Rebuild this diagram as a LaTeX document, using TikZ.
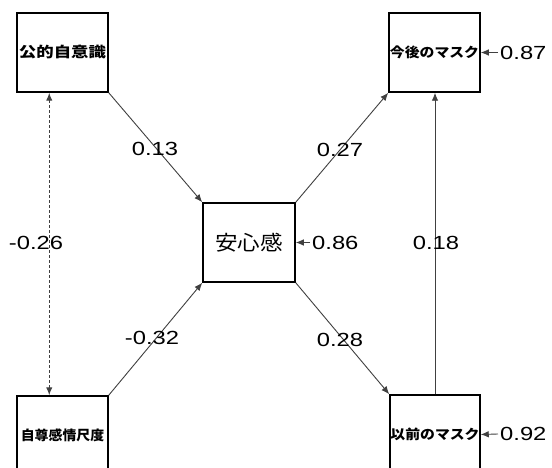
\documentclass[tikz,border=0pt]{standalone}
\usepackage{fontspec}
\setmainfont{Liberation Sans}
\newfontfamily\cjk{Noto Sans CJK JP}
\usetikzlibrary{arrows.meta}
\newcommand{\lbl}[1]{\scalebox{1.25}[1]{\fontsize{19}{20}\selectfont #1}}
\newcommand{\jp}[3]{\scalebox{#2}[1]{\cjk\bfseries\fontsize{#1}{#1}\selectfont #3}}
\begin{document}
\begin{tikzpicture}[x=1pt,y=-1pt,
  box/.style={draw=black, line width=1.5pt, minimum width=91pt, minimum height=79pt, inner sep=0pt},
  conn/.style={draw=black!75, line width=0.9pt},
  tip/.style={Latex[length=8pt,width=6.5pt]},
  arr/.style={conn, -{Latex[length=8pt,width=6.5pt]}},
  lab/.style={inner sep=0pt}]
\useasboundingbox (0,0) rectangle (552,468);
\fill[white] (0,0) rectangle (552,468);
% boxes
\node[box] (A) at (62.5,52.5) {\jp{14.5}{1.2}{公的自意識}};
\node[box] (B) at (434.5,52.5) {\jp{13.5}{1.1}{今後のマスク}};
\node[box, minimum width=92pt] (C) at (249,242.5) {\scalebox{1.1}[1]{\cjk\fontsize{20.5}{20}\selectfont 安心感}};
\node[box] (D) at (62.5,435.5) {\jp{13.5}{1.03}{自尊感情尺度}};
\node[box, minimum width=90pt] (E) at (435,434.5) {\jp{13.5}{1.1}{以前のマスク}};
% paths
\draw[arr] (A.south east) -- (C.north west);
\draw[arr] (C.north east) -- (B.south west);
\draw[arr] (D.north east) -- (C.south west);
\draw[arr] (C.south east) -- (E.north west);
\draw[arr] (E.north) -- (E.north |- B.south);
\draw[conn, line width=1.2pt, dash pattern=on 3pt off 2pt, {Latex[length=8pt,width=6.5pt]}-{Latex[length=8pt,width=6.5pt]}] ([xshift=33pt]A.south west) -- ([xshift=33pt]D.north west);
% coefficient labels
\node[lab] (l13) at (155,149) {\lbl{0.13}};
\node[lab] (l27) at (340,150) {\lbl{0.27}};
\node[lab] (l32) at (152,338) {\lbl{-0.32}};
\node[lab] (l28) at (340,340) {\lbl{0.28}};
\node[lab] (l18) at (436,243) {\lbl{0.18}};
\node[lab] (l26) at (36,243) {\lbl{-0.26}};
% error terms
\node[lab, anchor=west] (e1) at (500,52.5) {\lbl{0.87}};
\node[lab, anchor=west] (e2) at (312,242.5) {\lbl{0.86}};
\node[lab, anchor=west] (e3) at (500,434) {\lbl{0.92}};
\draw[arr] ([xshift=-2pt]e1.west) -- (B.east);
\draw[arr] ([xshift=-2pt]e2.west) -- (C.east);
\draw[arr] ([xshift=-2pt]e3.west) -- (E.east);
\end{tikzpicture}
\end{document}
